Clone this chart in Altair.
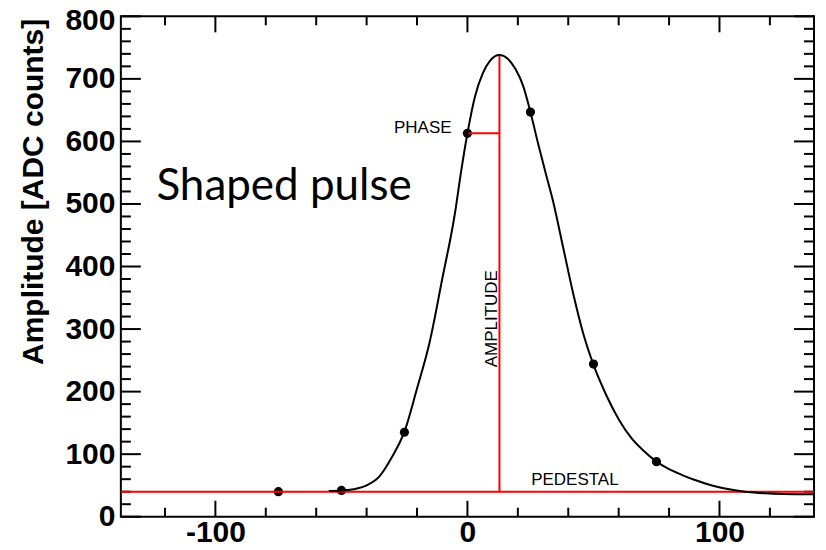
import altair as alt
import pandas as pd

# ---- data ----
curve_x = [-55, -50, -45, -40, -35, -30, -25, -20, -15, -10, -5, -2.5, 0, 3, 6, 9, 12.7,
           16, 19, 22, 25, 28, 31, 34, 38, 42, 46, 50, 55, 60, 65, 70, 75, 80, 85, 90,
           97, 105, 111, 118, 125, 137.5]
curve_y = [41, 42, 44, 50, 64, 95, 136, 205, 279, 380, 484, 552, 613, 672, 708, 729, 738,
           732, 716, 690, 647, 597, 550, 504, 430, 356, 292, 243, 195, 156, 126, 105, 88, 76, 67, 59,
           50, 43, 39.5, 37.5, 36.5, 36]

sample_x = [-75, -50, -25, 0, 25, 50, 75]
sample_y = [40, 42, 135, 613, 647, 244, 88]

pedestal_y = 40
peak_x = 12.7
peak_y = 738
phase_x0 = 0
phase_y = 613

x_domain = [-137.5, 137.5]
y_domain = [0, 800]
x_major = [-100, 0, 100]
x_minor = [-120, -80, -60, -40, -20, 20, 40, 60, 80, 120]
y_major = [0, 100, 200, 300, 400, 500, 600, 700, 800]
y_minor = [v for v in range(20, 800, 20) if v % 100 != 0]

title_text = ["Shaped pulse"]
title_x = [-123.4]
title_y = [506]
phase_text = ["PHASE"]
phase_tx = [-6.3]
phase_ty = [613]
amp_text = ["AMPLITUDE"]
amp_tx = [11.9]
amp_ty = [316.6]
ped_text = ["PEDESTAL"]
ped_tx = [25.3]
ped_ty = [51]

# ---- chart ----
W, H = 694, 501
FONT = "Liberation Sans"
xs = alt.Scale(domain=x_domain, nice=False, zero=False)
ys = alt.Scale(domain=y_domain, nice=False, zero=False)

x_axis = alt.Axis(values=x_major, title=None, ticks=False, tickSize=0, domain=False, grid=False,
                  labelFont=FONT, labelFontWeight="bold", labelFontSize=30, labelColor="black",
                  labelBaseline="alphabetic", labelPadding=25, labelExpr="datum.value + ''")
y_axis = alt.Axis(values=y_major, title="Amplitude [ADC counts]", ticks=False, tickSize=0,
                  domain=False, grid=False,
                  labelFont=FONT, labelFontWeight="bold", labelFontSize=30, labelColor="black",
                  labelPadding=6, labelExpr="datum.value + ''",
                  labelOffset={"condition": {"test": "datum.value == 800", "value": 4}, "value": 0},
                  titleFont=FONT, titleFontWeight="bold", titleFontSize=30, titleColor="black",
                  titleAngle=270, titleAlign="right", titleBaseline="alphabetic",
                  titleX=-78, titleY=2)


def X(field):
    return alt.X(field, type="quantitative", scale=xs, axis=x_axis)


def Y(field):
    return alt.Y(field, type="quantitative", scale=ys, axis=y_axis)


curve_df = pd.DataFrame({"x": curve_x, "y": curve_y})
pts_df = pd.DataFrame({"x": sample_x, "y": sample_y})

points = alt.Chart(pts_df).mark_circle(size=85, color="black", opacity=1).encode(x=X("x"), y=Y("y"))
curve = alt.Chart(curve_df).mark_line(color="black", strokeWidth=2, interpolate="monotone").encode(
    x=X("x"), y=Y("y"))

red = "#ff0000"
ped_df = pd.DataFrame({"x": [x_domain[0]], "x2": [x_domain[1]], "y": [pedestal_y]})
pedestal = alt.Chart(ped_df).mark_rule(color=red, strokeWidth=2).encode(x=X("x"), x2="x2:Q", y=Y("y"))

amp_df = pd.DataFrame({"x": [peak_x], "y": [pedestal_y], "y2": [peak_y]})
amp_line = alt.Chart(amp_df).mark_rule(color=red, strokeWidth=2).encode(x=X("x"), y=Y("y"), y2="y2:Q")

phase_df = pd.DataFrame({"x": [phase_x0], "x2": [peak_x], "y": [phase_y]})
phase_line = alt.Chart(phase_df).mark_rule(color=red, strokeWidth=2).encode(x=X("x"), x2="x2:Q", y=Y("y"))


def text_layer(texts, xv, yv, **kw):
    df = pd.DataFrame({"t": texts, "x": xv, "y": yv})
    return alt.Chart(df).mark_text(color="black", **kw).encode(x=X("x"), y=Y("y"), text="t:N")


t_title = text_layer(title_text, title_x, title_y, font="Lato", fontSize=44,
                     align="left", baseline="alphabetic")
t_phase = text_layer(phase_text, phase_tx, phase_ty, font=FONT, fontSize=17,
                     align="right", baseline="alphabetic")
t_amp = text_layer(amp_text, amp_tx, amp_ty, font=FONT, fontSize=17, angle=270,
                   align="center", baseline="alphabetic")
t_ped = text_layer(ped_text, ped_tx, ped_ty, font=FONT, fontSize=17,
                   align="left", baseline="alphabetic")


def xticks(vals, length):
    df = pd.DataFrame({"x": vals})
    base = alt.Chart(df).mark_rule(color="black", strokeWidth=2)
    bot = base.encode(x=X("x"), y=alt.value(H), y2=alt.value(H - length))
    top = base.encode(x=X("x"), y=alt.value(0), y2=alt.value(length))
    return [bot, top]


def yticks(vals, length):
    df = pd.DataFrame({"y": vals})
    base = alt.Chart(df).mark_rule(color="black", strokeWidth=2)
    left = base.encode(y=Y("y"), x=alt.value(0), x2=alt.value(length))
    right = base.encode(y=Y("y"), x=alt.value(W), x2=alt.value(W - length))
    return [left, right]


ticks = xticks(x_major, 16) + xticks(x_minor, 9) + yticks(y_major, 20) + yticks(y_minor, 10)

chart = alt.layer(
    points, *ticks, pedestal, amp_line, phase_line, curve,
    t_title, t_phase, t_amp, t_ped,
).properties(
    width=W, height=H,
    autosize=alt.AutoSizeParams(type="none"),
    padding={"left": 113, "top": 8, "right": 4, "bottom": 33},
    background="white",
).configure_view(stroke="black", strokeWidth=2)

chart.save("out.html", embed_options={"renderer": "svg", "actions": False})
